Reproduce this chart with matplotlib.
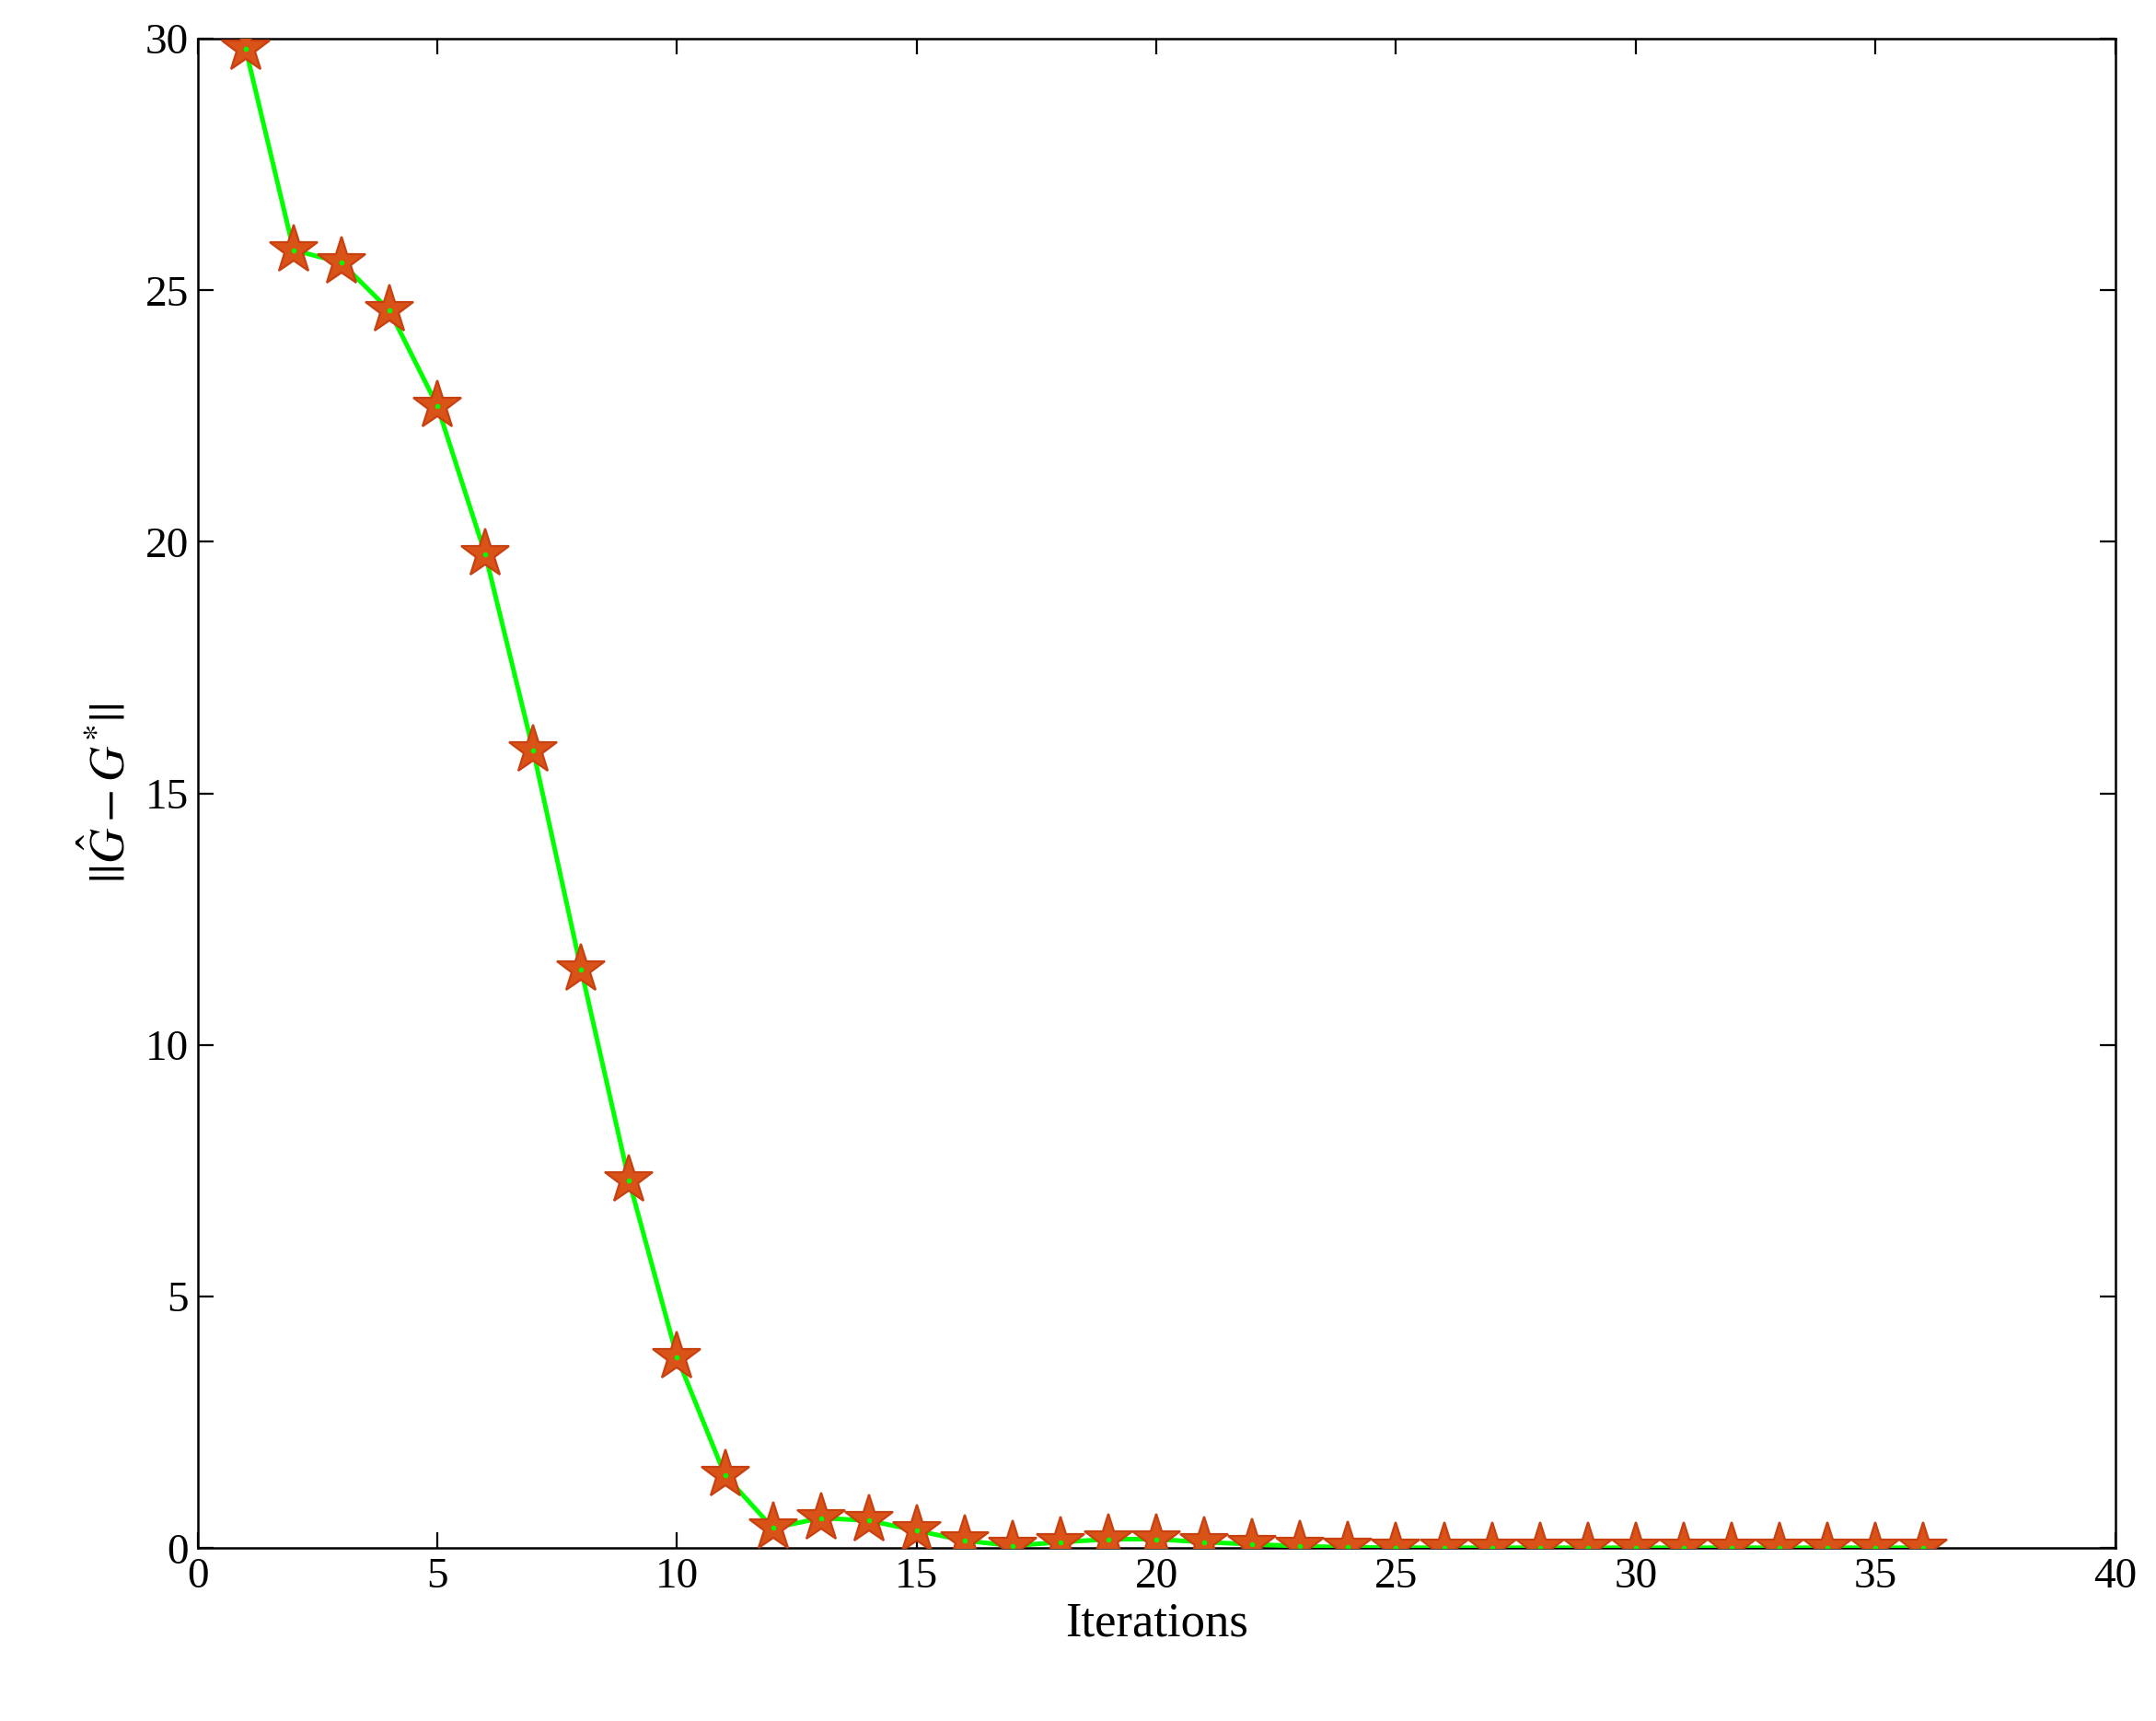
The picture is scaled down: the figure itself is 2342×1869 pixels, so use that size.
import matplotlib
matplotlib.use("Agg")
import matplotlib.pyplot as plt

iterations = list(range(1, 37))
error = [29.8, 25.8, 25.55, 24.6, 22.7, 19.75, 15.85, 11.5, 7.3, 3.8,
         1.45, 0.4, 0.6, 0.55, 0.35, 0.15, 0.05, 0.12, 0.18, 0.18,
         0.12, 0.08, 0.04, 0.02, 0.01, 0.01, 0.01, 0.01, 0.01, 0.01,
         0.01, 0.01, 0.01, 0.01, 0.01, 0.01]

plt.rcParams['font.family'] = ['Liberation Serif', 'DejaVu Serif']
plt.rcParams['mathtext.fontset'] = 'stix'

fig = plt.figure(figsize=(11.71, 9.345), dpi=200)
ax = fig.add_axes([0.0917, 0.1004, 0.8893, 0.8771])
ax.plot(iterations, error, color='#00FF00', lw=1.8, marker='*', markersize=20,
        markerfacecolor='#D95319', markeredgecolor='#C84010', markeredgewidth=0.8, zorder=3)
ax.plot(iterations, error, ls='none', marker='.', markersize=2, color='#00FF00', zorder=4)
ax.set_xlim(0, 40)
ax.set_ylim(0, 30)
ax.set_xticks(range(0, 41, 5))
ax.set_yticks(range(0, 31, 5))
ax.tick_params(direction='in', top=True, right=True, labelsize=17, length=6, width=0.8)
for s in ax.spines.values():
    s.set_linewidth(0.9)
ax.set_xlabel('Iterations', fontsize=19, labelpad=2)
ax.set_ylabel(r'$||\hat{G} - G^{*}||$', fontsize=19)
fig.savefig('out.png', dpi=200)
